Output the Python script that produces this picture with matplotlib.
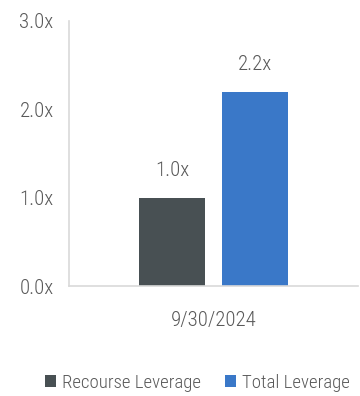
import matplotlib
matplotlib.use("Agg")
import matplotlib.pyplot as plt
from matplotlib.patches import Patch

# Leverage ratios as of the reporting date
period = ["9/30/2024"]
series_names = ["Recourse Leverage", "Total Leverage"]
recourse_leverage = [1.0]
total_leverage = [2.2]
y_ticks = [0.0, 1.0, 2.0, 3.0]

colors = ["#485053", "#3a78c8"]
text_color = "#595959"
axis_color = "#d9d9d9"

plt.rcParams["font.family"] = ["Roboto Condensed", "DejaVu Sans"]
plt.rcParams["font.weight"] = "light"

fig = plt.figure(figsize=(3.6, 3.96), dpi=100)
ax = fig.add_axes([69 / 360, 1 - 286 / 396, 289 / 360, 265 / 396])

bar_w = 0.225
offsets = [-0.1436, 0.1436]
for vals, off, col in zip([recourse_leverage, total_leverage], offsets, colors):
    xs = [i + off for i in range(len(period))]
    bars = ax.bar(xs, vals, width=bar_w, color=col, zorder=2)
    for b, v in zip(bars, vals):
        ax.annotate(f"{v:.1f}x", (b.get_x() + b.get_width() / 2, v),
                    xytext=(0, 13), textcoords="offset points",
                    ha="center", va="bottom", fontsize=15, color=text_color)

ax.set_xlim(-0.5, len(period) - 0.5)
ax.set_ylim(0, 3.0)
ax.set_yticks(y_ticks)
ax.set_yticklabels([f"{t:.1f}x" for t in y_ticks])
ax.set_xticks(range(len(period)))
ax.set_xticklabels(period)

for s in ["top", "right"]:
    ax.spines[s].set_visible(False)
for s in ["left", "bottom"]:
    ax.spines[s].set_color(axis_color)
    ax.spines[s].set_linewidth(1.2)

ax.tick_params(axis="both", length=0, labelsize=15, labelcolor=text_color)
ax.tick_params(axis="y", pad=11)
ax.tick_params(axis="x", pad=18)

handles = [Patch(facecolor=c, label=n) for c, n in zip(colors, series_names)]
fig.legend(handles=handles, loc="center", bbox_to_anchor=(0.548, 1 - 383 / 396),
           ncol=2, frameon=False, fontsize=13.5, labelcolor=text_color,
           handlelength=0.6, handleheight=0.6, handletextpad=0.3,
           columnspacing=1.3)

fig.savefig("out.png", dpi=100)
